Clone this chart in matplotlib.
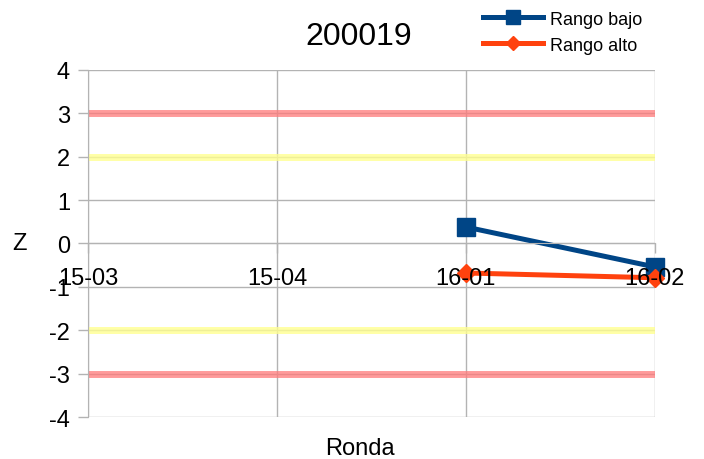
import numpy as np
import matplotlib
matplotlib.use("Agg")
import matplotlib.pyplot as plt

plt.rcParams['font.family'] = ['Liberation Sans', 'DejaVu Sans']
plt.rcParams['axes.unicode_minus'] = False

# datos
rondas = ['15-03', '15-04', '16-01', '16-02']
rango_bajo = [np.nan, np.nan, 0.38, -0.54]
rango_alto = [np.nan, np.nan, -0.68, -0.79]
limites_rojo = [3, -3]
limites_amarillo = [2, -2]
titulo = '200019'

x = np.arange(len(rondas))

fig = plt.figure(figsize=(7.04, 4.6), dpi=100)
ax = fig.add_axes([0.125, 0.0913, 0.805, 0.7544])

# rejilla
ax.set_axisbelow(True)
ax.yaxis.grid(True, color='#b3b3b3', linewidth=1)
ax.vlines(x, -4, 4, color='#b3b3b3', linewidth=1, zorder=0.5)

# bandas de control
for v in limites_rojo:
    ax.axhline(v, color='#ff7a7a', alpha=0.75, linewidth=5, zorder=1)
for v in limites_amarillo:
    ax.axhline(v, color='#ffff90', alpha=0.8, linewidth=5, zorder=1)

ax.plot(x, rango_bajo, color='#004586', linewidth=3.6, marker='s',
        markersize=13, label='Rango bajo', clip_on=False, zorder=2)
ax.plot(x, rango_alto, color='#ff420e', linewidth=3.6, marker='D',
        markersize=9, label='Rango alto', clip_on=False, zorder=2)

ax.set_xlim(0, len(rondas) - 1)
ax.set_ylim(-4, 4)
ax.set_yticks(range(-4, 5))
ax.set_xticks(x)
ax.set_xticklabels(rondas)

for s in ['top', 'right']:
    ax.spines[s].set_visible(False)
ax.spines['left'].set_color('#b3b3b3')
ax.spines['bottom'].set_color('#b3b3b3')
ax.spines['bottom'].set_position(('data', 0))
ax.xaxis.set_zorder(3)

ax.tick_params(axis='both', colors='#b3b3b3', labelcolor='black',
               labelsize=17, length=7, width=1)
ax.tick_params(axis='y', pad=6)
ax.tick_params(axis='x', pad=10)

ax.set_ylabel('Z', fontsize=17, rotation=0, va='center')
ax.yaxis.set_label_coords(-0.12, 0.5)
ax.set_xlabel('Ronda', fontsize=17, va='center')
ax.xaxis.set_label_coords(0.48, -0.09)

fig.text(0.51, 0.92, titulo, fontsize=23, ha='center', va='center')

fig.legend(loc='upper right', bbox_to_anchor=(0.935, 1.01), frameon=False,
           fontsize=13, handlelength=3.3, handletextpad=0.4, labelspacing=0.5,
           markerscale=0.75)

fig.savefig('out.png', dpi=100)
